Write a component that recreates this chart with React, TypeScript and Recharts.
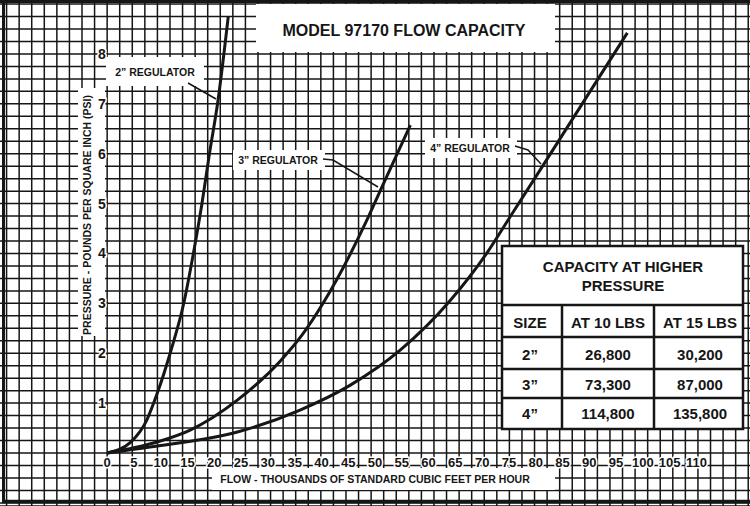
import { CartesianGrid, ComposedChart, Line, XAxis, YAxis } from 'recharts';

// flow in thousands of SCFH (x) vs pressure in psi (y)
const REG_2IN = [
  { x: 0, y: 0 },
  { x: 4.3, y: 0.21 },
  { x: 7.4, y: 0.66 },
  { x: 9.3, y: 1.18 },
  { x: 11.9, y: 2.05 },
  { x: 14.3, y: 3.0 },
  { x: 16.1, y: 4.0 },
  { x: 17.7, y: 5.0 },
  { x: 19.1, y: 6.0 },
  { x: 20.7, y: 7.07 },
  { x: 22.6, y: 8.74 },
];
const REG_3IN = [
  { x: 0, y: 0 },
  { x: 9.3, y: 0.22 },
  { x: 15.5, y: 0.46 },
  { x: 24.3, y: 1.06 },
  { x: 32.3, y: 1.84 },
  { x: 36.5, y: 2.38 },
  { x: 40.3, y: 3.0 },
  { x: 48.5, y: 4.67 },
  { x: 51.2, y: 5.31 },
  { x: 56.6, y: 6.57 },
];
const REG_4IN = [
  { x: 0, y: 0 },
  { x: 8.0, y: 0.12 },
  { x: 24.3, y: 0.42 },
  { x: 36.0, y: 0.86 },
  { x: 45.4, y: 1.36 },
  { x: 54.7, y: 2.06 },
  { x: 64.0, y: 3.05 },
  { x: 70.9, y: 4.01 },
  { x: 75.2, y: 4.73 },
  { x: 81.4, y: 5.77 },
  { x: 97.1, y: 8.42 },
];

const FLOW_TICKS = [0, 5, 10, 15, 20, 25, 30, 35, 40, 45, 50, 55, 60, 65, 70, 75, 80, 85, 90, 95, 100, 105, 110];
const PSI_TICKS = [1, 2, 3, 4, 5, 6, 7, 8];

const TABLE_TITLE = ['CAPACITY AT HIGHER', 'PRESSURE'];
const TABLE_HEADERS = ['SIZE', 'AT 10 LBS', 'AT 15 LBS'];
const TABLE_SIZES = ['2\u201d', '3\u201d', '4\u201d'];
const AT_10_LBS = ['26,800', '73,300', '114,800'];
const AT_15_LBS = ['30,200', '87,000', '135,800'];

// graph paper: one cell is 12.57px wide (= 12.57/5.357 flow units) and 12.47px tall
const CELL_FLOW = 12.57 / 5.357;
const GRID_COLS = Array.from({ length: 60 }, (_, i) => i - 8);
const GRID_ROWS = Array.from({ length: 41 }, (_, i) => i - 4);
const FLOW_DOMAIN = [-20, 120];

const W = 750;
const H = 506;
const FONT = '"Liberation Sans", Arial, sans-serif';
const INK = '#161616';

const bold = { fontFamily: FONT, fontWeight: 700, fill: INK } as const;

const gridColumns = ({ xAxis, offset }: any) =>
  GRID_COLS.map((c) => {
    const v = c * CELL_FLOW;
    if (xAxis && typeof xAxis.scale === 'function') return xAxis.scale(v);
    return offset.left + ((v - FLOW_DOMAIN[0]) / (FLOW_DOMAIN[1] - FLOW_DOMAIN[0])) * offset.width;
  });

function FlowTick(props: any) {
  const { x, payload } = props;
  return (
    <text
      {...bold}
      x={x}
      y={462}
      fontSize={13}
      textAnchor="middle"
      dominantBaseline="central"
      stroke="#fff"
      strokeWidth={3}
      paintOrder="stroke"
    >
      {payload.value}
    </text>
  );
}

function PsiTick(props: any) {
  const { y, payload } = props;
  return (
    <text
      {...bold}
      x={102}
      y={y}
      fontSize={14}
      textAnchor="middle"
      dominantBaseline="central"
      stroke="#fff"
      strokeWidth={3}
      paintOrder="stroke"
    >
      {payload.value}
    </text>
  );
}

function Label({ x, y, size, children }: { x: number; y: number; size: number; children: string }) {
  return (
    <text {...bold} x={x} y={y} fontSize={size} textAnchor="middle" dominantBaseline="central">
      {children}
    </text>
  );
}

function CapacityTable() {
  const left = 502;
  const right = 743;
  const top = 246;
  const bottom = 429;
  const rowLines = [305, 337, 369, 398];
  const colLines = [562, 654];
  const rowCenters = [322, 354, 384, 413];
  const colCenters = [530, 608, 700];
  return (
    <g>
      <rect x={left} y={top} width={right - left} height={bottom - top} fill="#fff" stroke={INK} strokeWidth={2.5} />
      {rowLines.map((y) => (
        <line key={y} x1={left} x2={right} y1={y} y2={y} stroke={INK} strokeWidth={2.5} />
      ))}
      {colLines.map((x) => (
        <line key={x} x1={x} x2={x} y1={305} y2={bottom} stroke={INK} strokeWidth={2.5} />
      ))}
      <Label x={623} y={266} size={15}>{TABLE_TITLE[0]}</Label>
      <Label x={623} y={285} size={15}>{TABLE_TITLE[1]}</Label>
      {TABLE_HEADERS.map((h, i) => (
        <Label key={h} x={colCenters[i]} y={rowCenters[0]} size={15}>{h}</Label>
      ))}
      {TABLE_SIZES.map((s, i) => (
        <g key={s}>
          <Label x={colCenters[0]} y={rowCenters[i + 1]} size={15}>{s}</Label>
          <Label x={colCenters[1]} y={rowCenters[i + 1]} size={15}>{AT_10_LBS[i]}</Label>
          <Label x={colCenters[2]} y={rowCenters[i + 1]} size={15}>{AT_15_LBS[i]}</Label>
        </g>
      ))}
    </g>
  );
}

export default function App() {
  return (
    <div style={{ position: 'absolute', left: 0, top: 0, width: W, height: H, background: '#fff' }}>
      <ComposedChart width={W} height={H} margin={{ top: 0, right: 0, bottom: -1, left: -1 }}>
        <XAxis
          xAxisId="flow"
          type="number"
          dataKey="x"
          domain={FLOW_DOMAIN}
          allowDataOverflow
          ticks={FLOW_TICKS}
          interval={0}
          height={1}
          axisLine={false}
          tickLine={false}
          tick={<FlowTick />}
        />
        <YAxis
          yAxisId="psi"
          type="number"
          domain={[-53 / 49.9, 453 / 49.9]}
          allowDataOverflow
          ticks={PSI_TICKS}
          interval={0}
          width={1}
          axisLine={false}
          tickLine={false}
          tick={<PsiTick />}
        />
        <YAxis yAxisId="grid" type="number" domain={[-53 / 12.47, 453 / 12.47]} allowDataOverflow ticks={GRID_ROWS} interval={0} hide />
        <CartesianGrid
          xAxisId="flow"
          yAxisId="grid"
          stroke={INK}
          strokeWidth={1.5}
          verticalCoordinatesGenerator={gridColumns}
        />

        {/* white patches on the graph paper */}
        <rect x={256} y={4} width={299} height={48} fill="#fff" />
        <rect x={106} y={57} width={98} height={29} fill="#fff" />
        <rect x={233} y={150} width={92} height={20} fill="#fff" />
        <rect x={425} y={138} width={92} height={20} fill="#fff" />
        <rect x={78} y={88} width={27} height={248} fill="#fff" />
        <rect x={212} y={468} width={343} height={22} fill="#fff" />

        <Line xAxisId="flow" yAxisId="psi" data={REG_2IN} dataKey="y" type="monotone" stroke={INK} strokeWidth={3} dot={false} isAnimationActive={false} />
        <Line xAxisId="flow" yAxisId="psi" data={REG_3IN} dataKey="y" type="monotone" stroke={INK} strokeWidth={3} dot={false} isAnimationActive={false} />
        <Line xAxisId="flow" yAxisId="psi" data={REG_4IN} dataKey="y" type="monotone" stroke={INK} strokeWidth={3} dot={false} isAnimationActive={false} />

        <CapacityTable />

        <Label x={404} y={30} size={16}>MODEL 97170 FLOW CAPACITY</Label>
        <Label x={155} y={72} size={10.5}>{'2\u201d REGULATOR'}</Label>
        <Label x={278} y={160} size={10.5}>{'3\u201d REGULATOR'}</Label>
        <Label x={470} y={148} size={10.5}>{'4\u201d REGULATOR'}</Label>
        <polyline points="188,83 216,99" fill="none" stroke={INK} strokeWidth={1.5} />
        <polyline points="323,159 333,160 378,187" fill="none" stroke={INK} strokeWidth={1.5} />
        <polyline points="515,146 528,150 541,164" fill="none" stroke={INK} strokeWidth={1.5} />

        <text {...bold} x={375} y={479} fontSize={10.5} textAnchor="middle" dominantBaseline="central">
          FLOW - THOUSANDS OF STANDARD CUBIC FEET PER HOUR
        </text>
        <text
          {...bold}
          x={87}
          y={215}
          fontSize={10.5}
          textAnchor="middle"
          dominantBaseline="central"
          transform="rotate(-90 87 215)"
        >
          PRESSURE - POUNDS PER SQUARE INCH (PSI)
        </text>

        {/* heavy frame of the sheet */}
        <line x1={0} x2={W} y1={1.5} y2={1.5} stroke={INK} strokeWidth={3} />
        <line x1={3.5} x2={3.5} y1={0} y2={503} stroke={INK} strokeWidth={3} />
        <line x1={2} x2={W} y1={501.5} y2={501.5} stroke={INK} strokeWidth={3.5} />
      </ComposedChart>
    </div>
  );
}
